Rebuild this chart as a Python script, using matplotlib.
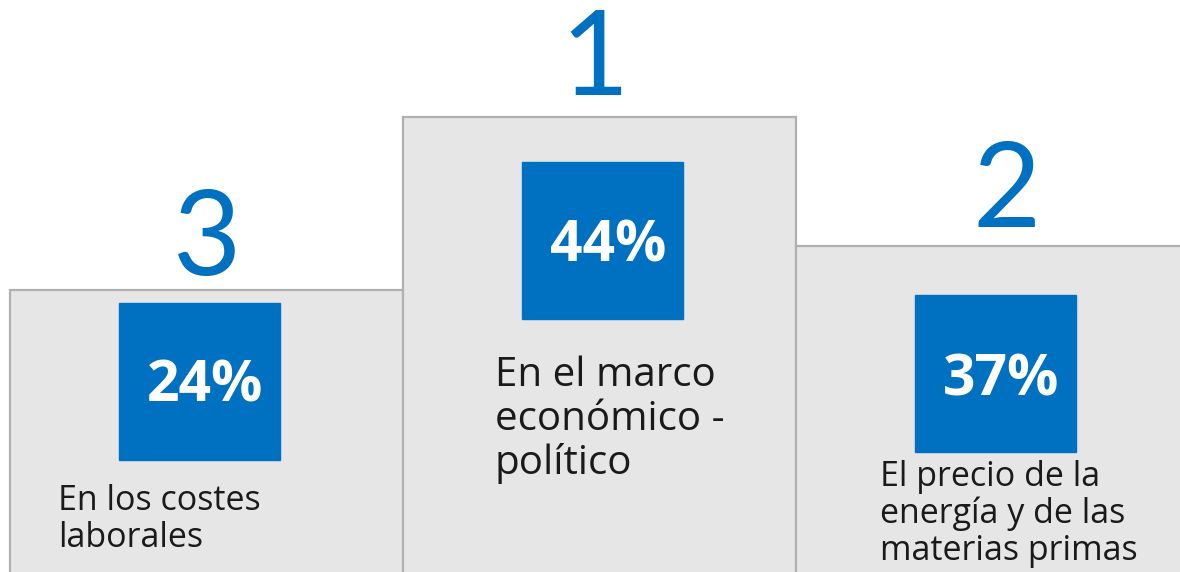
import matplotlib.pyplot as plt

# podium data, left to right
ranks = ["3", "1", "2"]
shares = ["24%", "44%", "37%"]
labels = ["En los costes\nlaborales",
          "En el marco\neconómico -\npolítico",
          "El precio de la\nenergía y de las\nmaterias primas"]
podium_height = [282, 455, 326]

W, H = 1180, 572
BLUE = "#0070C0"

fig = plt.figure(figsize=(W / 100, H / 100), dpi=100)
ax = fig.add_axes([0, 0, 1, 1])
ax.set_xlim(0, W)
ax.set_ylim(0, H)
ax.axis("off")

# podium blocks
centers = [206.5, 599.5, 992.5]
ax.bar(centers, [h + 10 for h in podium_height], bottom=-10, width=393,
       color="#e6e6e6", edgecolor="#b0b0b0", linewidth=1.6, zorder=1)

# layout for squares / texts (pixel positions measured from top)
box_x = [199.5, 602.5, 995.5]
box_top = [303, 162, 295]
box_w, box_h = 161, 157
pct_x = [205, 608, 1001]
pct_base = [402, 261, 396]
rank_x = [207, 595, 1007]
rank_base = [275, 95, 227]
lab_x = [58, 495, 880]
lab_top = [484, 356, 460]
lab_size = [24.5, 29, 24.5]

for i in range(3):
    ax.add_patch(plt.Rectangle((box_x[i] - box_w / 2, H - box_top[i] - box_h),
                               box_w, box_h, color=BLUE, zorder=2))
    ax.text(pct_x[i], H - pct_base[i], shares[i], color="white", fontsize=41,
            fontweight="bold", family="Open Sans", ha="center", va="baseline", zorder=3)
    ax.text(rank_x[i], H - rank_base[i], ranks[i], color=BLUE, fontsize=85,
            family="Lato", ha="center", va="baseline", zorder=3)
    ax.text(lab_x[i], H - lab_top[i], labels[i], color="#1a1a1a", fontsize=lab_size[i],
            family="Open Sans", ha="left", va="top", linespacing=1.1, zorder=3)

fig.savefig("out.png", dpi=100)
